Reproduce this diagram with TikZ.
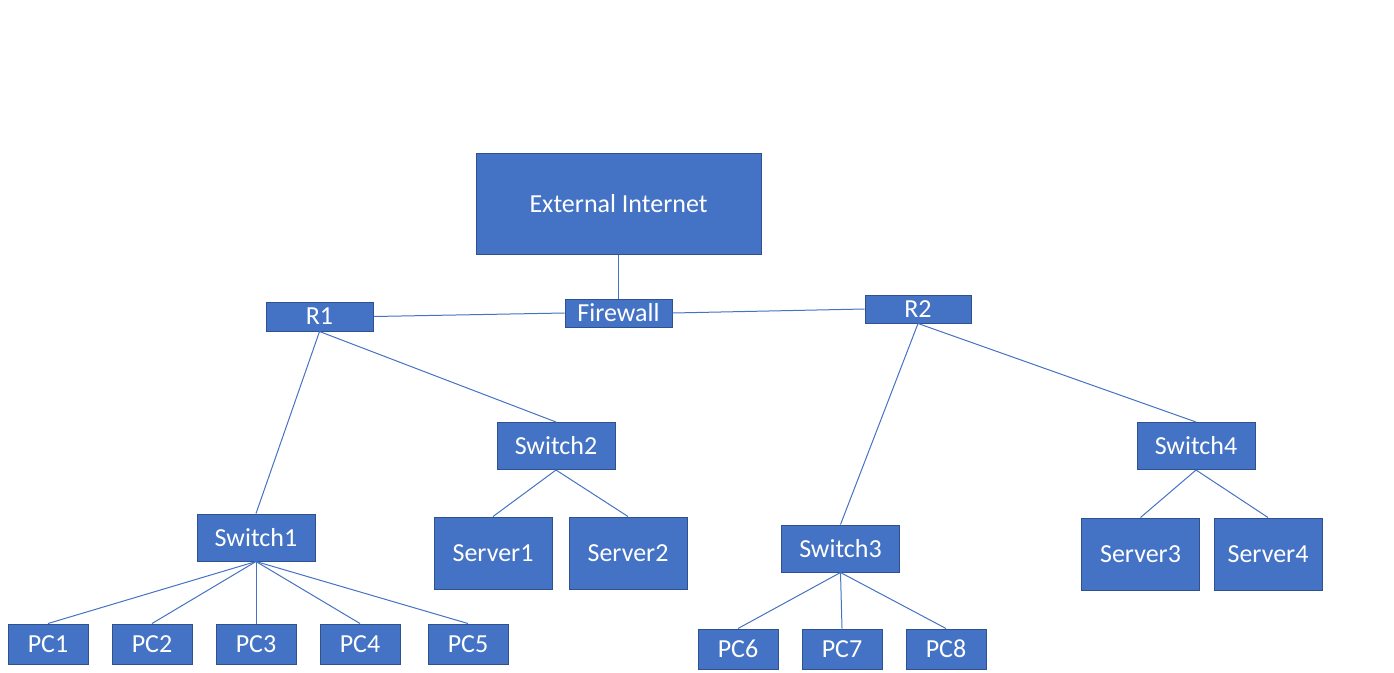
\documentclass[tikz,border=0pt]{standalone}
\usepackage{fontspec}
\setmainfont{Carlito}
\definecolor{boxfill}{HTML}{4472C4}
\definecolor{boxline}{HTML}{2F528F}
\tikzset{
  netbox/.style={rectangle, fill=boxfill, draw=boxline, line width=.75pt,
    text=white, inner sep=0pt, font=\fontsize{19.5}{23}\selectfont},
  link/.style={draw=boxfill, line width=.75pt}
}
\begin{document}
\begin{tikzpicture}[x=.75pt, y=-.75pt]
	\useasboundingbox (0, 0) rectangle (1394, 672);
	\begin{scope}[every node/.style=netbox]
		\node[minimum width=213.75pt, minimum height=75.75pt] (ext) at (618.5, 203.5) {External Internet};
		\node[minimum width=80.25pt, minimum height=21pt] (fw) at (618.5, 313) {Firewall};
		\node[minimum width=80.25pt, minimum height=21.75pt] (r1) at (319.5, 316.5) {R1};
		\node[minimum width=79.5pt, minimum height=21pt] (r2) at (918, 309) {R2};
	\end{scope}
	\begin{scope}[every node/.style={netbox, minimum width=88.5pt, minimum height=35.25pt}]
		\node (sw1) at (256, 537.5) {Switch1};
		\node (sw2) at (556, 446) {Switch2};
		\node (sw3) at (840.5, 548.5) {Switch3};
		\node (sw4) at (1196, 446) {Switch4};
	\end{scope}
	\begin{scope}[every node/.style={netbox, minimum height=54pt}]
		\node[minimum width=88.5pt] (srv1) at (493, 553) {Server1};
		\node[minimum width=88.5pt] (srv2) at (628, 553) {Server2};
		\node[minimum width=88.5pt] (srv3) at (1140.5, 554) {Server3};
		\node[minimum width=81pt] (srv4) at (1268, 554) {Server4};
	\end{scope}
	\begin{scope}[every node/.style={netbox, minimum width=60pt, minimum height=30pt}]
		\node (pc1) at (48, 644) {PC1};
		\node (pc2) at (152, 644) {PC2};
		\node (pc3) at (256, 644) {PC3};
		\node (pc4) at (360, 644) {PC4};
		\node (pc5) at (468, 644) {PC5};
		\node (pc6) at (738, 649) {PC6};
		\node (pc7) at (842, 649) {PC7};
		\node (pc8) at (946, 649) {PC8};
	\end{scope}
	\begin{scope}[every path/.style=link]
		\path (ext.south) edge (fw.north);
		\path (fw.west) edge (r1.east);
		\path (fw.east) edge (r2.west);
		\path (r1.south) edge (sw1.north) edge (sw2.north);
		\path (r2.south) edge (sw3.north) edge (sw4.north);
		\path (sw1.south) edge (pc1.north) edge (pc2.north) edge (pc3.north) edge (pc4.north) edge (pc5.north);
		\path (sw2.south) edge (srv1.north) edge (srv2.north);
		\path (sw3.south) edge (pc6.north) edge (pc7.north) edge (pc8.north);
		\path (sw4.south) edge (srv3.north) edge (srv4.north);
	\end{scope}
\end{tikzpicture}
\end{document}
